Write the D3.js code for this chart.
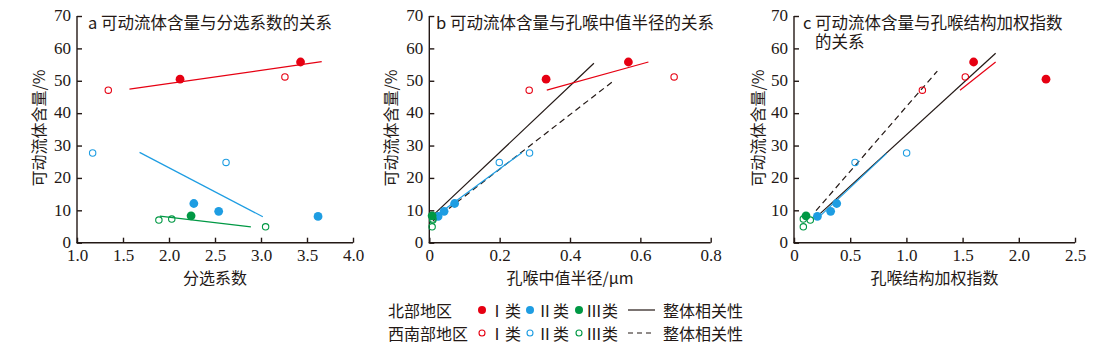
<!DOCTYPE html>
<html lang="zh">
<head>
<meta charset="UTF-8">
<script src="https://cdn.jsdelivr.net/npm/d3@7"></script>
<style>
  body { margin: 0; background: #fff; }
  svg text { fill: #231815; }
  .num { font-family: "Liberation Serif", "DejaVu Serif", serif; font-size: 17px; }
  .cn { font-family: "Noto Sans CJK SC", sans-serif; font-size: 16px; }
</style>
</head>
<body>
<svg id="chart" width="1096" height="353"></svg>
<script>
// ---------------- data ----------------
// fluid content (%) of each sample, by group
const fluid_NI = [50.5, 55.8];
const fluid_SWI = [47.1, 51.2];
const fluid_NII = [12.1, 9.7, 8.1];
const fluid_SWII = [27.7, 24.8];
const fluid_NIII = [8.3];
const fluid_SWIII = [7.0, 7.3, 4.9];

// a: sorting coefficient
const sort_NI = [2.12, 3.43];
const sort_SWI = [1.34, 3.26];
const sort_NII = [2.27, 2.54, 3.62];
const sort_SWII = [1.17, 2.62];
const sort_NIII = [2.24];
const sort_SWIII = [1.89, 2.03, 3.05];

// b: median throat radius (um)
const rad_NI = [0.332, 0.566];
const rad_SWI = [0.284, 0.696];
const rad_NII = [0.072, 0.042, 0.025];
const rad_SWII = [0.285, 0.199];
const rad_NIII = [0.008];
const rad_SWIII = [0.010, 0.010, 0.008];

// c: weighted pore-throat index
const idx_NI = [2.242, 1.598];
const idx_SWI = [1.142, 1.524];
const idx_NII = [0.380, 0.326, 0.208];
const idx_SWII = [1.002, 0.543];
const idx_NIII = [0.107];
const idx_SWIII = [0.145, 0.083, 0.083];

// fitted lines: [x1, y1, x2, y2]
const fitA = [
  { c: "red", d: [1.57, 47.4, 3.66, 55.9] },
  { c: "blue", d: [1.68, 27.9, 3.02, 8.0] },
  { c: "green", d: [1.90, 8.2, 2.89, 4.9] }
];
const fitB = [
  { c: "black", d: [0.011, 8.5, 0.468, 55.4] },
  { c: "dash", d: [0.011, 6.8, 0.523, 49.9] },
  { c: "blue", d: [0.021, 8.5, 0.263, 27.8] },
  { c: "red", d: [0.334, 47.1, 0.623, 55.8] }
];
const fitC = [
  { c: "black", d: [0.208, 8.2, 1.794, 58.5] },
  { c: "dash", d: [0.196, 9.9, 1.275, 53.0] },
  { c: "blue", d: [0.231, 8.2, 0.824, 27.6] },
  { c: "red", d: [1.477, 47.1, 1.794, 55.8] }
];

const yTicks = [0, 10, 20, 30, 40, 50, 60, 70];
const xTicksA = [1.0, 1.5, 2.0, 2.5, 3.0, 3.5, 4.0];
const xTicksB = [0, 0.2, 0.4, 0.6, 0.8];
const xTicksC = [0, 0.5, 1.0, 1.5, 2.0, 2.5];

const col = { red: "#e60012", blue: "#1e9de2", green: "#009844", black: "#231815", dash: "#231815" };

const svg = d3.select("#chart");

function groups(xs) {
  return [
    { x: xs[0], y: fluid_NI, c: col.red, open: false },
    { x: xs[1], y: fluid_SWI, c: col.red, open: true },
    { x: xs[2], y: fluid_NII, c: col.blue, open: false },
    { x: xs[3], y: fluid_SWII, c: col.blue, open: true },
    { x: xs[4], y: fluid_NIII, c: col.green, open: false },
    { x: xs[5], y: fluid_SWIII, c: col.green, open: true }
  ];
}

function panel(opt) {
  const x = d3.scaleLinear().domain(opt.xDomain).range([opt.left, opt.right]);
  const y = d3.scaleLinear().domain([0, 70]).range([242.7, 16]);
  const g = svg.append("g");

  // axes
  const ya = g.append("g").attr("transform", `translate(${opt.left},0)`)
    .call(d3.axisLeft(y).tickValues(yTicks).tickFormat(d3.format("d"))
      .tickSizeInner(-5).tickSizeOuter(0).tickPadding(6));
  const xa = g.append("g").attr("transform", "translate(0,242.7)")
    .call(d3.axisBottom(x).tickValues(opt.xTicks).tickFormat(opt.fmt)
      .tickSizeInner(-5).tickSizeOuter(0).tickPadding(6));
  [ya, xa].forEach(a => {
    a.selectAll("path,line").attr("stroke", "#231815").attr("stroke-width", 1.4);
    a.selectAll("text").attr("class", "num").attr("fill", "#231815");
  });
  ya.selectAll("text").attr("dy", "0.28em");
  ya.select(".domain").attr("d", `M0,${y(70)}V${y(0)}`);
  xa.select(".domain").attr("d", `M${opt.left - 0.7},0H${opt.right}`);

  // fit lines
  g.selectAll(".fit").data(opt.fits).enter().append("line")
    .attr("x1", d => x(d.d[0])).attr("y1", d => y(d.d[1]))
    .attr("x2", d => x(d.d[2])).attr("y2", d => y(d.d[3]))
    .attr("stroke", d => col[d.c])
    .attr("stroke-width", 1.2)
    .attr("stroke-dasharray", d => d.c === "dash" ? "6,4" : null);

  // points
  const pts = [];
  groups(opt.xs).forEach(gr => gr.x.forEach((v, i) => pts.push({ x: v, y: gr.y[i], c: gr.c, open: gr.open })));
  pts.sort((a, b) => a.open - b.open);
  g.selectAll(".pt").data(pts).enter().append("circle")
    .attr("cx", d => x(d.x)).attr("cy", d => y(d.y))
    .attr("r", d => d.open ? 3.2 : 4.4)
    .attr("fill", d => d.open ? "#fff" : d.c)
    .attr("fill-opacity", d => d.open ? 0 : 1)
    .attr("stroke", d => d.open ? d.c : "none")
    .attr("stroke-width", 1.1);

  // titles
  opt.title.forEach((t, i) => {
    g.append("text").attr("class", "cn").attr("x", t[0]).attr("y", t[1])
      .style("font-size", "16.5px").text(t[2]);
  });
  g.append("text").attr("class", "cn")
    .attr("x", (opt.left + opt.right) / 2).attr("y", 284)
    .attr("text-anchor", "middle").text(opt.xLabel);
  g.append("text").attr("class", "cn")
    .attr("transform", `translate(${opt.yLabelX},128) rotate(-90)`)
    .attr("text-anchor", "middle").attr("dominant-baseline", "central")
    .text("可动流体含量/%");
}

panel({
  left: 77, right: 353, xDomain: [1, 4], xTicks: xTicksA, fmt: d3.format(".1f"),
  xs: [sort_NI, sort_SWI, sort_NII, sort_SWII, sort_NIII, sort_SWIII],
  fits: fitA, xLabel: "分选系数", yLabelX: 38,
  title: [[88, 29, "a 可动流体含量与分选系数的关系"]]
});
panel({
  left: 429.3, right: 710.7, xDomain: [0, 0.8], xTicks: xTicksB, fmt: d => d === 0 ? "0" : d3.format(".1f")(d),
  xs: [rad_NI, rad_SWI, rad_NII, rad_SWII, rad_NIII, rad_SWIII],
  fits: fitB, xLabel: "孔喉中值半径/μm", yLabelX: 390,
  title: [[436, 29, "b 可动流体含量与孔喉中值半径的关系"]]
});
panel({
  left: 794, right: 1075, xDomain: [0, 2.5], xTicks: xTicksC, fmt: d => d === 0 ? "0" : d3.format(".1f")(d),
  xs: [idx_NI, idx_SWI, idx_NII, idx_SWII, idx_NIII, idx_SWIII],
  fits: fitC, xLabel: "孔喉结构加权指数", yLabelX: 757,
  title: [[803, 29, "c 可动流体含量与孔喉结构加权指数"], [815, 48, "的关系"]]
});

// ---------------- legend ----------------
const legendRows = [
  { label: "北部地区", open: false, dash: null, y: 310 },
  { label: "西南部地区", open: true, dash: "5,4", y: 333 }
];
const legendClasses = [
  { name: "Ⅰ类", c: col.red, dotX: 482, textX: 489 },
  { name: "Ⅱ类", c: col.blue, dotX: 530, textX: 537 },
  { name: "Ⅲ类", c: col.green, dotX: 579, textX: 586 }
];
const lg = svg.append("g");
legendRows.forEach(r => {
  lg.append("text").attr("class", "cn").attr("x", 388).attr("y", r.y)
    .attr("dominant-baseline", "central").text(r.label);
  legendClasses.forEach(k => {
    lg.append("circle").attr("cx", k.dotX).attr("cy", r.y)
      .attr("r", r.open ? 3 : 4)
      .attr("fill", r.open ? "none" : k.c)
      .attr("stroke", r.open ? k.c : "none").attr("stroke-width", 1.1);
    lg.append("text").attr("class", "cn").attr("x", k.textX).attr("y", r.y)
      .attr("dominant-baseline", "central").text(k.name);
  });
  lg.append("line").attr("x1", 628).attr("x2", 655).attr("y1", r.y).attr("y2", r.y)
    .attr("stroke", "#231815").attr("stroke-width", 1.2).attr("stroke-dasharray", r.dash);
  lg.append("text").attr("class", "cn").attr("x", 663).attr("y", r.y)
    .attr("dominant-baseline", "central").text("整体相关性");
});
</script>
</body>
</html>
